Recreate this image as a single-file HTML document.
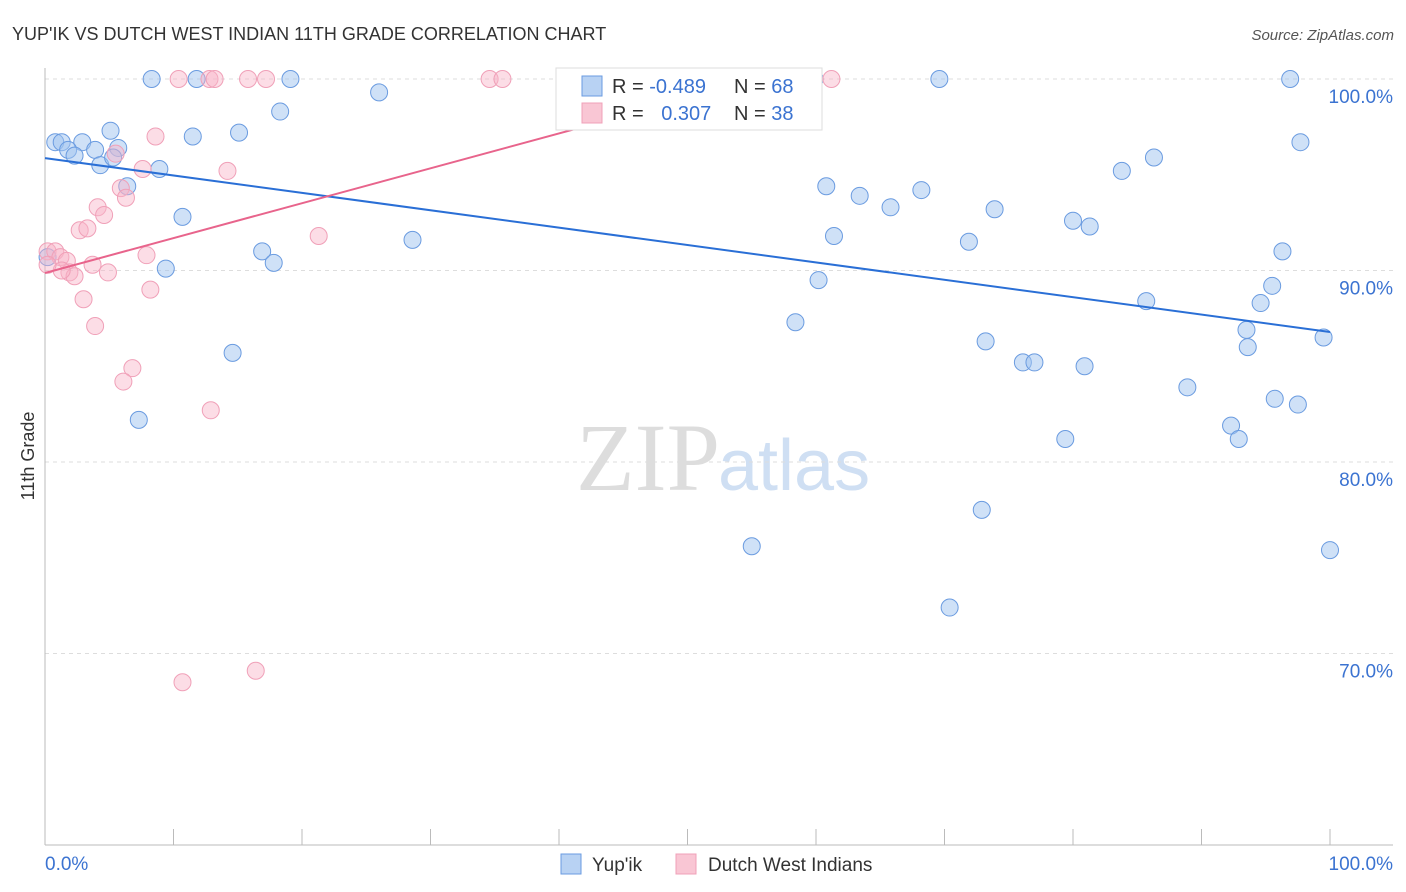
<!DOCTYPE html>
<html><head><meta charset="utf-8"><style>
body{margin:0;background:#fff;font-family:"Liberation Sans",sans-serif}
svg{display:block}
</style></head><body>
<svg id="c" width="1406" height="892">
<text x="12" y="40" font-size="18" fill="#333">YUP'IK VS DUTCH WEST INDIAN 11TH GRADE CORRELATION CHART</text>
<text x="1394" y="40" font-size="15" fill="#555" font-style="italic" text-anchor="end">Source: ZipAtlas.com</text>
<text x="720" y="490" font-size="96" fill="#ddd" text-anchor="end" font-family="Liberation Serif">ZIP</text>
<text x="718" y="490" font-size="72" fill="#cfdff3">atlas</text>
<text transform="translate(34,456) rotate(-90)" font-size="18" fill="#333" text-anchor="middle">11th Grade</text>
<g id="grid"></g><g id="marks"></g>
<g>
<rect x="556" y="68" width="266" height="62" fill="#fff" stroke="#ddd"/>
<rect x="582" y="76" width="20" height="20" fill="#b8d2f3" stroke="#6a9be0"/>
<rect x="582" y="103" width="20" height="20" fill="#f9c6d4" stroke="#f0a0b8"/>
<text x="612" y="93" font-size="20" fill="#333">R = <tspan fill="#3b73d1">-0.489</tspan></text>
<text x="734" y="93" font-size="20" fill="#333">N = <tspan fill="#3b73d1">68</tspan></text>
<text x="612" y="120" font-size="20" fill="#333">R = <tspan fill="#3b73d1" dx="12">0.307</tspan></text>
<text x="734" y="120" font-size="20" fill="#333">N = <tspan fill="#3b73d1">38</tspan></text>
</g>
<g>
<rect x="561" y="854" width="20" height="20" fill="#b8d2f3" stroke="#6a9be0"/>
<text x="592" y="871" font-size="19" fill="#333">Yup'ik</text>
<rect x="676" y="854" width="20" height="20" fill="#f9c6d4" stroke="#f0a0b8"/>
<text x="708" y="871" font-size="19" fill="#333">Dutch West Indians</text>
</g>
</svg>
<script>
const yTicks=[100,90,80,70];
const xTickLabels=["0.0%","100.0%"];
const blueX=[8.3,11.8,19.1,41.6,59.9,69.6,96.9,26.0,18.3,0.8,1.3,2.9,5.1,1.8,2.3,3.9,4.3,5.7,5.3,8.9,15.1,11.5,6.4,10.7,16.9,17.8,9.4,28.6,14.6,7.3,60.8,63.4,65.8,68.2,73.9,61.4,71.9,83.8,86.3,80.0,81.3,97.7,96.3,95.5,94.6,60.2,58.4,73.2,76.1,77.0,80.9,85.7,88.9,93.5,93.6,92.3,92.9,95.7,97.5,99.5,79.4,72.9,55.0,70.4,100,0.2];
const blueY=[100,100,100,100,100,100,100,99.3,98.3,96.7,96.7,96.7,97.3,96.3,96.0,96.3,95.5,96.4,95.9,95.3,97.2,97.0,94.4,92.8,91.0,90.4,90.1,91.6,85.7,82.2,94.4,93.9,93.3,94.2,93.2,91.8,91.5,95.2,95.9,92.6,92.3,96.7,91.0,89.2,88.3,89.5,87.3,86.3,85.2,85.2,85.0,88.4,83.9,86.9,86.0,81.9,81.2,83.3,83.0,86.5,81.2,77.5,75.6,72.4,75.4,90.7];
const pinkX=[10.4,12.8,13.2,15.8,17.2,34.6,35.6,61.2,8.6,5.5,7.6,14.2,5.9,6.3,4.1,4.6,2.7,3.3,21.3,0.2,0.8,1.2,1.7,1.9,2.3,1.3,3.7,4.9,7.9,8.2,3.0,3.9,6.8,6.1,12.9,10.7,16.4,0.2];
const pinkY=[100,100,100,100,100,100,100,100,97.0,96.1,95.3,95.2,94.3,93.8,93.3,92.9,92.1,92.2,91.8,91.0,91.0,90.7,90.5,89.9,89.7,90.0,90.3,89.9,90.8,89.0,88.5,87.1,84.9,84.2,82.7,68.5,69.1,90.3];
const blueTrend=[95.87,86.79];
const pinkTrend=[89.87,100];
const pinkTrendEndX=55.6;
const sx=v=>45+v*12.85, sy=v=>79+(100-v)*19.15;
const NS="http://www.w3.org/2000/svg";
const grid=document.getElementById('grid'),marks=document.getElementById('marks');
function mk(p,tag,a){const e=document.createElementNS(NS,tag);for(const k in a)e.setAttribute(k,a[k]);p.appendChild(e);return e;}
yTicks.forEach(t=>{
 const l=mk(grid,'line',{x1:45,x2:1393,y1:sy(t),y2:sy(t),stroke:'#ddd','stroke-dasharray':'4,4'});
 
 
 const tx=mk(grid,'text',{x:1393,y:sy(t)+24,'font-size':19,fill:'#3b73d1','text-anchor':'end'});
 tx.textContent=t.toFixed(1)+'%';
 
 
});
mk(grid,'line',{x1:45,x2:45,y1:68,y2:845,stroke:'#bbb'});
mk(grid,'line',{x1:45,x2:1393,y1:845,y2:845,stroke:'#bbb'});
for(let i=0;i<=10;i++){mk(grid,'line',{x1:sx(i*10),x2:sx(i*10),y1:829,y2:845,stroke:'#bbb'});}
const xl0=mk(grid,'text',{x:45,y:870,'font-size':19,fill:'#3b73d1'});xl0.textContent=xTickLabels[0];


const xl1=mk(grid,'text',{x:1393,y:870,'font-size':19,fill:'#3b73d1','text-anchor':'end'});xl1.textContent=xTickLabels[1];


blueX.forEach((x,i)=>{const c=mk(marks,'circle',{cx:sx(x),cy:sy(blueY[i]),r:8.5,fill:'rgba(160,195,240,0.5)',stroke:'#6a9be0','stroke-width':1});
 
 });
pinkX.forEach((x,i)=>{const c=mk(marks,'circle',{cx:sx(x),cy:sy(pinkY[i]),r:8.5,fill:'rgba(248,180,200,0.45)',stroke:'#f0a0b8','stroke-width':1});
 
 });
const bl=mk(marks,'line',{x1:sx(0),y1:sy(blueTrend[0]),x2:sx(100),y2:sy(blueTrend[1]),stroke:'#2a6fd6','stroke-width':2});


const pl=mk(marks,'line',{x1:sx(0),y1:sy(pinkTrend[0]),x2:sx(pinkTrendEndX),y2:sy(pinkTrend[1]),stroke:'#e8648c','stroke-width':2});


</script>
</body></html>
